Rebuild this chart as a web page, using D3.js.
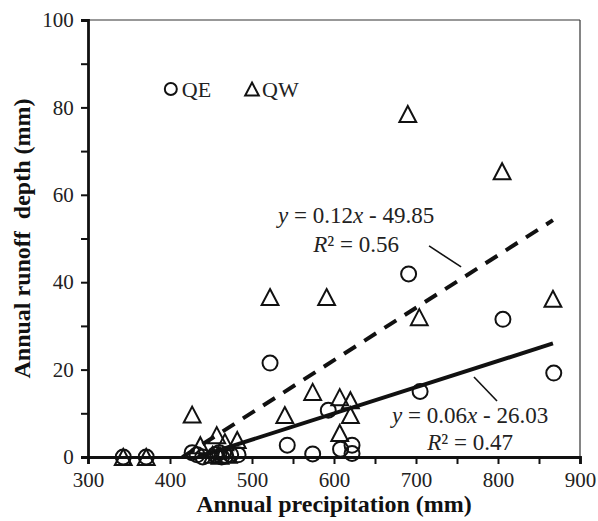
<!DOCTYPE html>
<html>
<head>
<meta charset="utf-8">
<script src="https://cdn.jsdelivr.net/npm/d3@7"></script>
<style>
  body { margin: 0; background: #fff; }
  svg { display: block; font-family: "Liberation Serif", "Times New Roman", serif; }
</style>
</head>
<body>
<div id="chart"></div>
<script>
// QE (circles)
const qePrecip = [343, 371, 427, 433, 440, 455, 460, 463, 468, 474, 483, 522, 543, 574, 593, 608, 622, 622, 691, 705, 806, 868]
const qeRunoff = [0, 0, 1.0, 0.5, 0, 0.5, 1.0, 0, 0.3, 0.5, 0.5, 21.5, 2.7, 0.7, 10.7, 1.8, 2.7, 0.8, 41.9, 15.0, 31.5, 19.2]

// QW (triangles)
const qwPrecip = [343, 371, 427, 437, 452, 457, 461, 467, 471, 482, 522, 540, 574, 591, 607, 607, 620, 620, 690, 704, 805, 867]
const qwRunoff = [0, 0, 9.7, 2.7, 0.5, 5.0, 0.3, 3.4, 0.5, 3.9, 36.6, 9.6, 14.9, 36.6, 13.7, 5.5, 13.0, 9.6, 78.5, 32.0, 65.4, 36.2]

// fitted lines: slope, intercept, x range
const qwFit = { slope: 0.12, intercept: -49.85, from: 415, to: 867, label: '0.12', b: '49.85', r2: '0.56' }
const qeFit = { slope: 0.06, intercept: -26.03, from: 434, to: 867, label: '0.06', b: '26.03', r2: '0.47' }

const xTicks = [300, 400, 500, 600, 700, 800, 900]
const yTicks = [0, 20, 40, 60, 80, 100]

const width = 598
const height = 521

const x = d3.scaleLinear().domain([300, 900]).range([88, 580])
const y = d3.scaleLinear().domain([0, 100]).range([457, 20])

const svg = d3.select('#chart').append('svg')
  .attr('width', width)
  .attr('height', height)
  .attr('viewBox', [0, 0, width, height])

// --- frame (thin top / right) ---
svg.append('line')
  .attr('x1', x(300)).attr('x2', x(900)).attr('y1', y(100)).attr('y2', y(100))
  .attr('stroke', '#333').attr('stroke-width', 1.2)
svg.append('line')
  .attr('x1', x(900)).attr('x2', x(900)).attr('y1', y(100)).attr('y2', y(0))
  .attr('stroke', '#333').attr('stroke-width', 1.2)

// --- axes ---
const xAxis = d3.axisBottom(x)
  .tickValues(d3.range(300, 901, 50))
  .tickSize(7)
  .tickFormat(d => xTicks.includes(d) ? d : '')
const gx = svg.append('g')
  .attr('transform', `translate(0,${y(0)})`)
  .call(xAxis)

const yAxis = d3.axisLeft(y)
  .tickValues(d3.range(0, 101, 10))
  .tickSize(7)
  .tickFormat(d => yTicks.includes(d) ? d : '')
const gy = svg.append('g')
  .attr('transform', `translate(${x(300)},0)`)
  .call(yAxis)

for (const g of [gx, gy]) {
  g.select('.domain').attr('stroke', '#111').attr('stroke-width', 2.8)
  g.selectAll('.tick line').attr('stroke', '#111').attr('stroke-width', 2)
  g.selectAll('.tick text')
    .attr('fill', '#222')
    .style('font-size', '21px')
    .style('font-family', '"Liberation Serif", serif')
}
gx.selectAll('.tick text').attr('dy', '0.95em')
gy.selectAll('.tick text').attr('dx', '-0.2em')

// --- axis titles ---
svg.append('text')
  .attr('x', (x(300) + x(900)) / 2)
  .attr('y', 512)
  .attr('text-anchor', 'middle')
  .style('font-size', '24px')
  .style('font-weight', 'bold')
  .attr('fill', '#111')
  .text('Annual precipitation (mm)')

svg.append('text')
  .attr('transform', `translate(30,${(y(0) + y(100)) / 2}) rotate(-90)`)
  .attr('text-anchor', 'middle')
  .style('font-size', '24px')
  .style('font-weight', 'bold')
  .style('white-space', 'pre')
  .attr('fill', '#111')
  .text('Annual runoff  depth (mm)')

// --- fitted lines ---
function fitLine(f) {
  return [[f.from, f.slope * f.from + f.intercept], [f.to, f.slope * f.to + f.intercept]]
}
const line = d3.line().x(d => x(d[0])).y(d => y(d[1]))

svg.append('path')
  .attr('d', line(fitLine(qwFit)))
  .attr('fill', 'none')
  .attr('stroke', '#111')
  .attr('stroke-width', 4)
  .attr('stroke-dasharray', '14 10')

svg.append('path')
  .attr('d', line(fitLine(qeFit)))
  .attr('fill', 'none')
  .attr('stroke', '#111')
  .attr('stroke-width', 4)

// --- markers ---
const triPath = function(s) {
  const h = s, w = s * 1.05
  return `M0,${-h}L${w},${h}L${-w},${h}Z`
}

const qe = qePrecip.map((p, i) => ({ p: p, r: qeRunoff[i] }))
const qw = qwPrecip.map((p, i) => ({ p: p, r: qwRunoff[i] }))

svg.append('g')
  .selectAll('circle')
  .data(qe)
  .join('circle')
    .attr('cx', d => x(d.p))
    .attr('cy', d => y(d.r))
    .attr('r', 7.5)
    .attr('fill', 'none')
    .attr('stroke', '#111')
    .attr('stroke-width', 2)

svg.append('g')
  .selectAll('path')
  .data(qw)
  .join('path')
    .attr('transform', d => `translate(${x(d.p)},${y(d.r)})`)
    .attr('d', triPath(8))
    .attr('fill', 'none')
    .attr('stroke', '#111')
    .attr('stroke-width', 2)
    .attr('stroke-linejoin', 'miter')

// --- legend ---
svg.append('circle')
  .attr('cx', x(401)).attr('cy', y(84.2)).attr('r', 6)
  .attr('fill', 'none').attr('stroke', '#111').attr('stroke-width', 2)
svg.append('text')
  .attr('x', x(401) + 11).attr('y', y(84.2) + 8)
  .style('font-size', '22px').attr('fill', '#222')
  .text('QE')
svg.append('path')
  .attr('transform', `translate(${x(500)},${y(84.2)})`)
  .attr('d', triPath(6.5))
  .attr('fill', 'none').attr('stroke', '#111').attr('stroke-width', 2)
svg.append('text')
  .attr('x', x(500) + 10).attr('y', y(84.2) + 8)
  .style('font-size', '22px').attr('fill', '#222')
  .text('QW')

// --- equation labels ---
function equation(f, cx, y1, y2, lead) {
  const t1 = svg.append('text')
    .attr('x', x(cx)).attr('y', y(y1))
    .attr('text-anchor', 'middle')
    .style('font-size', '23px').attr('fill', '#222')
  t1.append('tspan').style('font-style', 'italic').text('y')
  t1.append('tspan').text(' = ' + f.label)
  t1.append('tspan').style('font-style', 'italic').text('x')
  t1.append('tspan').text(' - ' + f.b)

  const t2 = svg.append('text')
    .attr('x', x(cx)).attr('y', y(y2))
    .attr('text-anchor', 'middle')
    .style('font-size', '23px').attr('fill', '#222')
  t2.append('tspan').style('font-style', 'italic').text('R')
  t2.append('tspan').text('² = ' + f.r2)

  svg.append('line')
    .attr('x1', x(lead[0])).attr('y1', y(lead[1]))
    .attr('x2', x(lead[2])).attr('y2', y(lead[3]))
    .attr('stroke', '#111').attr('stroke-width', 1.6)
}

equation(qwFit, 627, 53.5, 46.9, [715.9, 48.3, 755, 43.5])
equation(qeFit, 766, 7.8, 1.6, [770.7, 18.3, 798.8, 12.8])
</script>
</body>
</html>
